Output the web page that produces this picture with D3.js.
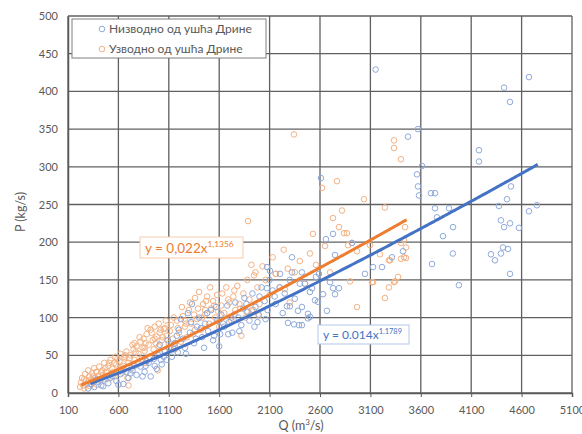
<!DOCTYPE html>
<html>
<head>
<meta charset="utf-8">
<script src="https://cdn.jsdelivr.net/npm/d3@7"></script>
<style>
  body { margin: 0; background: #fff; }
  svg { font-family: Lato, "Open Sans", sans-serif; }
</style>
</head>
<body>
<svg width="582" height="434"></svg>
<script>
// downstream of Drina mouth (blue)
var downQ = [300,330,360,400,430,460,500,540,580,620,650,680,700,
  740,780,820,860,900,920,950,980,1000,1030,1060,1080,1100,
  1130,1160,1190,1220,1240,1260,1290,1310,1330,1350,1380,1400,1430,1460,1490,
  1520,1550,1580,1600,1620,1650,1680,1700,1730,1760,1790,1820,1850,1880,1900,1930,1960,1990,2020,2050,2080,2100,
  2074,2104,2203,2322,2560,2590,2074,2699,2451,2729,2788,2500,2630,2749,2550,2580,2669,2272,2302,2381,2481,2481,2282,2342,2391,
  2150,2200,2250,2300,2350,2400,2420,2521,2421,2501,2421,2322,
  2610,2729,2659,2749,2917,3152,3572,3473,3612,3562,3572,3582,3701,3741,3741,3880,3760,3920,3820,3918,3711,3978,3423,3314,3126,3215,3046,
  4673,4426,4485,4177,4177,4495,4455,4375,4752,4673,4395,4485,4426,4574,4415,4465,4296,4395,4336,4485,
  380,450,520,600,720,760,840,880,960,1010,1050,1090,1150,1200,1270,1320,1370,1420,1480,1540,1570,1640,1690,1750,1800,1870,1950,2000,2060,2130,
  870,1020,1180,1450,1610,1720,1840,1980,2160,2230];
var downP = [6,12,8,15,10,18,13,22,16,25,12,28,20,
  30,24,35,28,40,22,45,32,50,38,56,44,60,
  48,66,54,98,72,60,106,80,118,66,88,100,74,92,82,
  110,76,96,62,104,88,116,94,80,120,100,90,126,108,96,132,114,104,140,122,110,150,
  167,162,158,180,154,158,139,147,145,139,139,134,131,131,123,121,109,115,115,109,105,99,93,91,90,
  128,140,132,150,125,145,160,139,114,101,90,160,
  285,211,204,183,199,429,350,340,301,290,274,262,265,265,245,245,233,220,208,185,171,143,188,180,167,167,158,
  419,405,386,322,307,274,257,248,249,241,229,225,220,219,193,191,184,185,176,158,
  18,9,20,11,26,36,22,42,36,64,48,70,58,84,52,94,72,86,106,70,114,92,78,104,82,118,88,128,98,136,
  36,44,76,60,78,100,112,94,118,106];

// upstream of Drina mouth (orange)
var upQ = [220,230,240,250,260,270,280,290,300,310,320,330,340,350,360,370,380,390,400,
  410,420,440,450,460,480,490,500,520,530,540,560,570,580,600,610,620,640,650,660,680,690,700,700,
  720,730,750,760,780,790,800,820,830,850,860,870,880,900,910,920,940,950,960,980,990,1000,1000,1010,
  1030,1050,1060,1080,1100,1120,1140,1160,1180,1200,1220,1240,1260,1280,1300,1320,1340,1360,1380,1400,
  1420,1440,1460,1480,1500,1520,1540,1560,1580,1600,1620,1650,1670,1700,1720,1740,1760,1780,1800,
  1820,1840,1860,1880,1900,1920,1940,1960,1980,2000,2030,2060,2100,2130,2160,2200,2240,2280,2300,
  1886,1945,1925,1995,2163,2342,2530,2620,2768,2818,2729,2788,2838,2867,2917,2898,2967,3036,3244,
  3334,3334,3403,3443,3433,3403,3453,3195,3284,3403,3433,3453,3374,3334,3284,3244,3126,
  2878,3096,2967,3295,3116,3344,2250,2350,2400,2450,2500,2560,2650,2700,
  260,300,350,430,470,510,550,590,630,670,710,740,770,810,840,870,890,930,970,1020,1040,1070,
  1110,1150,1190,1230,1270,1310,1350,1390,1430,1470,1510,1550,1590,1630,1690,1750,1810,1870,
  560,660,760,860,960,1060,1160,1260,1360,1460];
var upP = [8,14,20,10,6,25,17,12,30,22,9,18,26,14,33,20,28,11,23,
  35,17,30,24,40,28,19,36,44,26,32,22,48,38,30,42,52,27,36,46,55,20,40,10,
  50,33,58,44,62,38,52,68,45,72,56,40,78,64,48,84,70,58,88,75,30,92,62,80,
  70,85,55,76,66,90,72,58,96,80,68,102,88,74,110,92,78,126,98,134,
  84,118,104,128,92,112,122,100,130,88,116,106,140,120,96,128,110,142,118,
  76,132,100,150,124,170,110,160,140,118,168,150,130,180,158,140,190,165,120,
  228,156,110,103,158,343,211,272,281,242,232,220,212,212,199,148,114,257,246,
  335,325,310,220,203,199,193,184,176,178,180,179,154,147,140,126,147,
  196,196,188,176,147,148,138,160,175,145,185,170,195,160,
  18,15,22,27,33,40,28,45,34,50,46,64,54,74,60,66,86,80,66,84,74,96,
  82,100,86,114,92,120,104,112,100,122,140,116,108,132,124,136,112,108,
  40,48,66,60,72,86,62,96,84,110];

var xTicks = [100,600,1100,1600,2100,2600,3100,3600,4100,4600,5100];
var yTicks = [0,50,100,150,200,250,300,350,400,450,500];

// trendlines y = a * x^b
var fitDown = {a: 0.014, b: 1.1789, from: 320, to: 4760, label: "y = 0.014x", exp: "1.1789"};
var fitUp = {a: 0.022, b: 1.1356, from: 230, to: 3460, label: "y = 0,022x", exp: "1,1356"};

var blueLight = "#8faadc", orangeLight = "#f4b183";
var blue = "#4472c4", orange = "#ed7d31";

var svg = d3.select("svg");
var x = d3.scaleLinear().domain([100, 5100]).range([68, 572]);
var y = d3.scaleLinear().domain([0, 500]).range([393, 16]);

// grid
var grid = svg.append("g");
grid.selectAll("line.v").data(xTicks).enter().append("line")
    .attr("x1", d => x(d)).attr("x2", d => x(d))
    .attr("y1", y(0)).attr("y2", y(500))
    .attr("stroke", "#606060").attr("stroke-width", 1.3);
grid.selectAll("line.h").data(yTicks).enter().append("line")
    .attr("x1", x(100)).attr("x2", x(5100))
    .attr("y1", d => y(d)).attr("y2", d => y(d))
    .attr("stroke", "#606060").attr("stroke-width", 1.3);

// axes
var xAxis = svg.append("g").attr("transform", "translate(0," + y(0) + ")")
    .call(d3.axisBottom(x).tickValues(xTicks).tickFormat(d3.format("d")).tickSize(4).tickPadding(9));
var yAxis = svg.append("g").attr("transform", "translate(" + x(100) + ",0)")
    .call(d3.axisLeft(y).tickValues(yTicks).tickSize(0).tickPadding(10));
[xAxis, yAxis].forEach(function (g) {
    g.select(".domain").attr("stroke", "#595959").attr("stroke-width", 1.5);
    g.selectAll(".tick line").attr("stroke", "#595959");
    g.selectAll("text").attr("fill", "#595959").style("font-size", "11px")
        .style("font-family", "Lato, 'Open Sans', sans-serif");
});

// points
function drawPoints(qs, ps, color) {
    svg.append("g").selectAll("circle")
        .data(qs.map((q, i) => [q, ps[i]]))
        .enter().append("circle")
        .attr("cx", d => x(d[0])).attr("cy", d => y(d[1]))
        .attr("r", 2.8)
        .attr("fill", "none").attr("stroke", color).attr("stroke-width", 1);
}
drawPoints(upQ, upP, orangeLight);
drawPoints(downQ, downP, blueLight);

// trendlines
var line = d3.line().x(d => x(d[0])).y(d => y(d[1]));
function drawFit(f, color) {
    var pts = d3.range(f.from, f.to, 20).concat([f.to]).map(q => [q, f.a * Math.pow(q, f.b)]);
    svg.append("path").datum(pts).attr("d", line)
        .attr("fill", "none").attr("stroke", color).attr("stroke-width", 3);
}
drawFit(fitDown, blue);
drawFit(fitUp, orange);

// equation labels
function eqLabel(f, color, border, bx, by, bw, bh, fs) {
    svg.append("rect").attr("x", bx).attr("y", by).attr("width", bw).attr("height", bh)
        .attr("fill", "#fff").attr("stroke", border).attr("stroke-width", 1);
    var t = svg.append("text").attr("x", bx + 5).attr("y", by + bh - 5)
        .attr("fill", color).style("font-size", fs + "px");
    t.append("tspan").text(f.label);
    t.append("tspan").attr("dy", -fs * 0.45).style("font-size", (fs * 0.62) + "px").text(f.exp);
}
eqLabel(fitUp, orange, "#f8cbad", 140, 237, 103, 21, 13.5);
eqLabel(fitDown, blue, "#b4c7e7", 318, 325, 91, 19, 12);

// legend
var legend = svg.append("g");
legend.append("rect").attr("x", 72).attr("y", 19).attr("width", 194).attr("height", 39)
    .attr("fill", "#fff").attr("stroke", "#7f7f7f").attr("stroke-width", 1);
[["Низводно од ушћа Дрине", blueLight, 29], ["Узводно од ушћа Дрине", orangeLight, 49]].forEach(function (e) {
    legend.append("circle").attr("cx", 102).attr("cy", e[2]).attr("r", 2.8)
        .attr("fill", "none").attr("stroke", e[1]);
    legend.append("text").attr("x", 109).attr("y", e[2] + 4).attr("fill", "#595959")
        .style("font-size", "12px").text(e[0]);
});

// axis titles
svg.append("text").attr("transform", "translate(25,212) rotate(-90)")
    .attr("text-anchor", "middle").attr("fill", "#595959").style("font-size", "12.5px")
    .text("P (kg/s)");
var xt = svg.append("text").attr("x", 301).attr("y", 430).attr("text-anchor", "middle")
    .attr("fill", "#595959").style("font-size", "12.5px");
xt.append("tspan").text("Q (m");
xt.append("tspan").attr("dy", -5).style("font-size", "8px").text("3");
xt.append("tspan").attr("dy", 5).text("/s)");
</script>
</body>
</html>
